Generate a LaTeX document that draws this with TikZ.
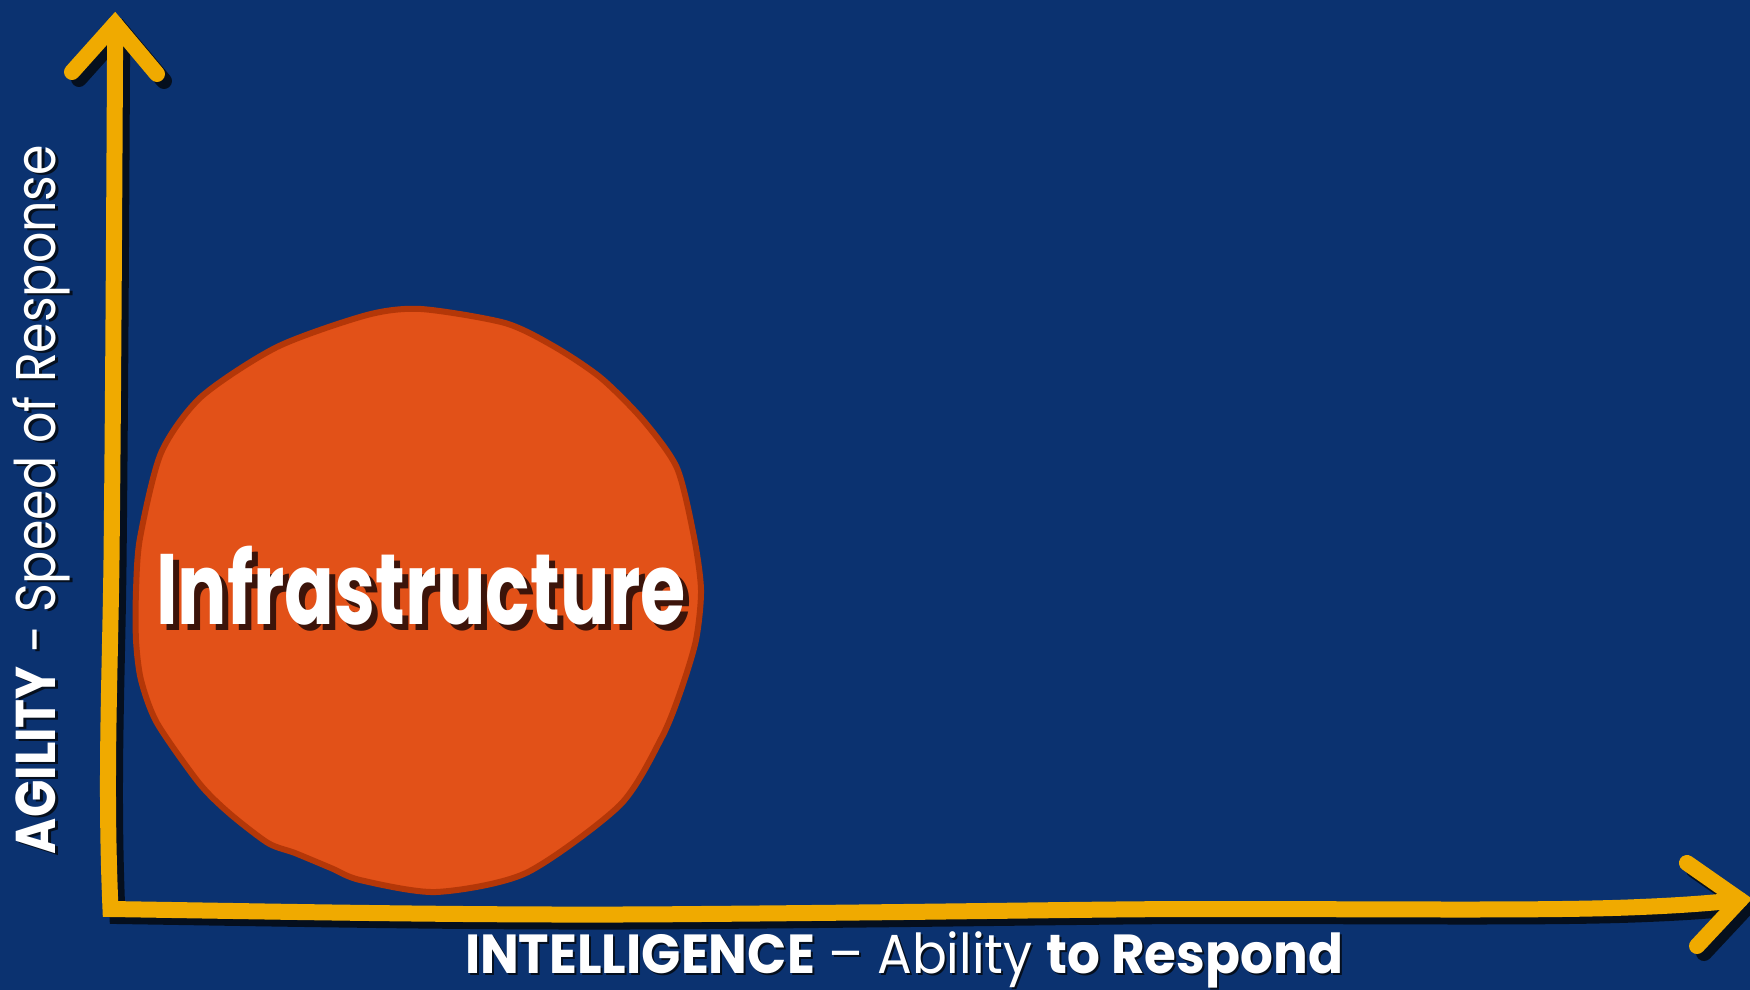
\documentclass[tikz,border=0pt]{standalone}
\usepackage{fontspec}
\setmainfont{Poppins}
\usepackage{graphicx}
\definecolor{bgblue}{RGB}{11,50,112}
\definecolor{axisyellow}{RGB}{240,170,0}
\definecolor{axisshadow}{RGB}{5,15,30}
\definecolor{blobfill}{RGB}{226,81,24}
\definecolor{blobline}{RGB}{180,55,8}
\definecolor{txtshadow}{RGB}{60,20,10}
\tikzset{
  axisline/.style={line width=16pt, line cap=round, line join=miter, miter limit=10},
  blobshape/.style={fill=blobfill, draw=blobline, line width=6pt, line join=round},
  lbl/.style={inner sep=0pt, outer sep=0pt, text=white},
}
\newcommand\axispaths{%
  \draw (ywl) -- (ytip) -- (ywr);
  \draw (ytip) -- (115,60) .. controls (114,250) and (113,420) .. (111.5,560)
        .. controls (110,680) and (105,780) .. (origin)
        .. controls (300,912) and (500,916) .. (700,914)
        .. controls (950,912) and (1100,909) .. (1200,909)
        .. controls (1400,909) and (1550,911) .. (1640,907)
        .. controls (1690,905) and (1720,902) .. (xtip);
  \draw (xwu) -- (xtip) -- (xwl);
}
\begin{document}
\begin{tikzpicture}[x=1pt,y=-1pt]
\path[fill=bgblue] (0,0) rectangle (1750,990);
\useasboundingbox (0,0) rectangle (1750,990);
\coordinate (origin) at (110.5,909);
\coordinate (ytip) at (115,24);
\coordinate (ywl) at (72,72);
\coordinate (ywr) at (157,74);
\coordinate (xtip) at (1740,900);
\coordinate (xwu) at (1687,863);
\coordinate (xwl) at (1697,946);
% blob
\draw[blobshape] plot[smooth cycle, tension=0.45] coordinates {
 (421,309) (505,323) (555,347) (601,378) (643,420) (677,468) (694,537) (701,590)
 (696,640) (681,690) (662,737) (620,805) (526,873) (436,892) (360,880) (331,868)
 (295,853) (268,843) (229,813) (199,783) (157,723) (141,680) (136,640) (136,591)
 (140,538) (161,453) (201,397) (277,347) (367,315)};
% axes: shadow then yellow
\begin{scope}[transform canvas={shift={(7,7)}}, axisline, draw=axisshadow]
\axispaths
\end{scope}
\begin{scope}[axisline, draw=axisyellow]
\axispaths
\end{scope}
% title in blob
\node[lbl, text=txtshadow, anchor=base west] (infrash) at (162,630)
  {\resizebox{530pt}{\height}{\fontsize{100}{110}\selectfont\bfseries Infrastructure}};
\node[lbl, anchor=base west] (infra) at (156,624)
  {\resizebox{530pt}{\height}{\fontsize{100}{110}\selectfont\bfseries Infrastructure}};
% x label
\node[lbl, text=axisshadow, anchor=base west] (xlabelsh) at (467,975)
  {\resizebox{878pt}{\height}{\fontsize{55}{60}\selectfont\textbf{INTELLIGENCE} – Ability \textbf{to Respond}}};
\node[lbl, anchor=base west] (xlabel) at (465,973)
  {\resizebox{878pt}{\height}{\fontsize{55}{60}\selectfont\textbf{INTELLIGENCE} – Ability \textbf{to Respond}}};
% y label
\node[lbl, text=axisshadow, rotate=90, anchor=base west] (ylabelsh) at (58,856)
  {\resizebox{709pt}{\height}{\fontsize{56}{60}\selectfont\textbf{AGILITY} - Speed of Response}};
\node[lbl, rotate=90, anchor=base west] (ylabel) at (56,854)
  {\resizebox{709pt}{\height}{\fontsize{56}{60}\selectfont\textbf{AGILITY} - Speed of Response}};
\end{tikzpicture}
\end{document}
